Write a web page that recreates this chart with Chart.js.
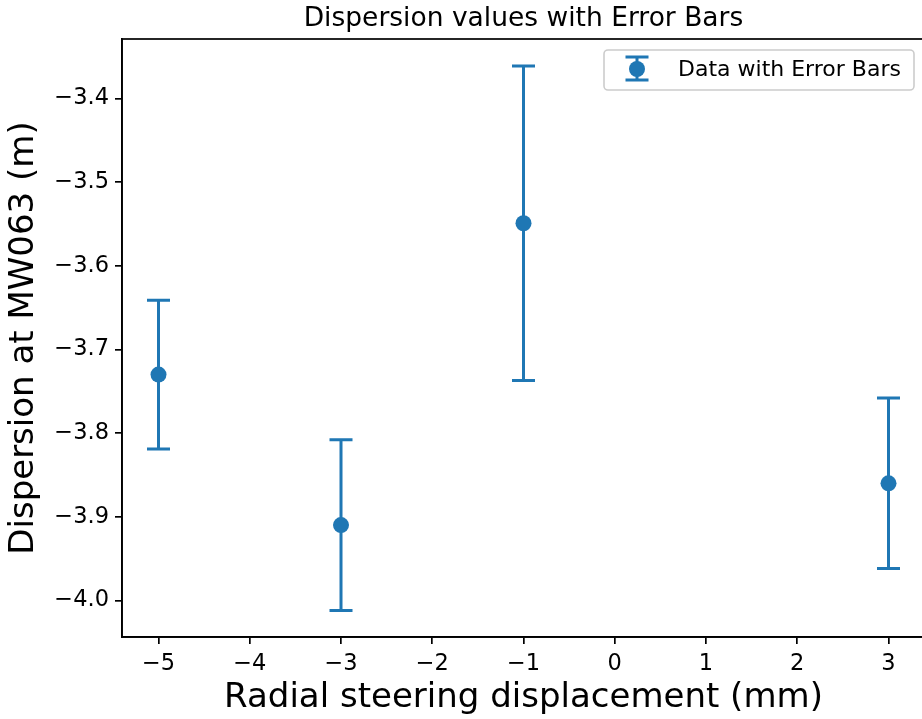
<!DOCTYPE html>
<html>
<head>
<meta charset="utf-8">
<script src="https://cdn.jsdelivr.net/npm/chart.js@4.4.0/dist/chart.umd.min.js"></script>
<style>
  html, body { margin: 0; padding: 0; background: #fff; overflow: hidden; }
  #wrap { width: 922px; height: 719px; overflow: hidden; }
</style>
</head>
<body>
<div id="wrap"><canvas id="myChart" width="925" height="719"></canvas></div>
<script>
const displacement = [-5, -3, -1, 3];
const dispersion = [-3.73, -3.91, -3.549, -3.86];
const errors = [0.089, 0.102, 0.188, 0.102];
const xTicks = [-5, -4, -3, -2, -1, 0, 1, 2, 3];
const yTicks = [-4.0, -3.9, -3.8, -3.7, -3.6, -3.5, -3.4];

const blue = '#1f77b4';
const font = '"DejaVu Sans", sans-serif';

const minus = (v, digits) => {
  const s = Number(v).toFixed(digits);
  return s.replace('-', '\u2212');
};

// error bars drawn under the markers
const errorBars = {
  id: 'errorBars',
  beforeDatasetsDraw(chart) {
    const { ctx, scales: { x, y } } = chart;
    ctx.save();
    ctx.strokeStyle = blue;
    ctx.lineWidth = 3;
    displacement.forEach((d, i) => {
      const px = x.getPixelForValue(d);
      const top = y.getPixelForValue(dispersion[i] + errors[i]);
      const bot = y.getPixelForValue(dispersion[i] - errors[i]);
      ctx.beginPath();
      ctx.moveTo(px, top);
      ctx.lineTo(px, bot);
      ctx.moveTo(px - 11.5, top);
      ctx.lineTo(px + 11.5, top);
      ctx.moveTo(px - 11.5, bot);
      ctx.lineTo(px + 11.5, bot);
      ctx.stroke();
    });
    ctx.restore();
  }
};

// axes frame + legend box
const frameAndLegend = {
  id: 'frameAndLegend',
  afterDraw(chart) {
    const { ctx, chartArea: a } = chart;
    ctx.save();
    ctx.strokeStyle = '#000';
    ctx.lineWidth = 1.7;
    ctx.strokeRect(a.left, a.top, a.right - a.left, a.bottom - a.top);

    const w = 310, h = 40;
    const bx = a.right - 11 - w, by = a.top + 11;
    ctx.beginPath();
    ctx.roundRect(bx, by, w, h, 4);
    ctx.fillStyle = 'rgba(255,255,255,0.8)';
    ctx.fill();
    ctx.strokeStyle = '#cccccc';
    ctx.lineWidth = 1.6;
    ctx.stroke();

    const ix = bx + 33, iy = by + 19;
    ctx.strokeStyle = blue;
    ctx.lineWidth = 3;
    ctx.beginPath();
    ctx.moveTo(ix, iy - 12); ctx.lineTo(ix, iy + 11);
    ctx.moveTo(ix - 11.5, iy - 12); ctx.lineTo(ix + 11.5, iy - 12);
    ctx.moveTo(ix - 11.5, iy + 11); ctx.lineTo(ix + 11.5, iy + 11);
    ctx.stroke();
    ctx.beginPath();
    ctx.arc(ix, iy, 8, 0, Math.PI * 2);
    ctx.fillStyle = blue;
    ctx.fill();

    ctx.fillStyle = '#000';
    ctx.font = '22px ' + font;
    ctx.textAlign = 'left';
    ctx.textBaseline = 'middle';
    ctx.fillText(chart.data.datasets[0].label, bx + 74, iy + 1);
    ctx.restore();
  }
};

const noPad = s => {
  s.paddingLeft = 0; s.paddingRight = 0; s.paddingTop = 0; s.paddingBottom = 0;
};

new Chart(document.getElementById('myChart'), {
  type: 'scatter',
  data: {
    datasets: [{
      label: 'Data with Error Bars',
      data: displacement.map((d, i) => ({ x: d, y: dispersion[i] })),
      pointRadius: 8,
      pointHoverRadius: 8,
      pointBackgroundColor: blue,
      pointBorderWidth: 0,
      showLine: false
    }]
  },
  options: {
    responsive: false,
    animation: false,
    devicePixelRatio: 1,
    layout: { padding: 0, autoPadding: false },
    plugins: {
      legend: { display: false },
      tooltip: { enabled: false },
      title: {
        display: true,
        text: 'Dispersion values with Error Bars',
        fullSize: false,
        color: '#000',
        font: { family: font, size: 26.5, weight: 'normal', lineHeight: 1.2 },
        padding: { top: 3, bottom: 4.2 }
      }
    },
    scales: {
      x: {
        type: 'linear',
        min: -5.4,
        max: 3.4,
        afterBuildTicks: s => { s.ticks = xTicks.map(v => ({ value: v })); },
        afterFit: s => { s.height = 82; noPad(s); },
        ticks: {
          autoSkip: false,
          maxRotation: 0,
          color: '#000',
          padding: 7,
          font: { family: font, size: 22.5 },
          callback: v => minus(v, 0)
        },
        grid: { drawOnChartArea: false, drawTicks: true, tickLength: 7, color: '#000', lineWidth: 1.7 },
        border: { display: true, color: '#000', width: 1.7 },
        title: {
          display: true,
          text: 'Radial steering displacement (mm)',
          color: '#000',
          font: { family: font, size: 34, lineHeight: 1.2 },
          padding: { top: 0, bottom: 0 }
        }
      },
      y: {
        type: 'linear',
        min: -4.0438,
        max: -3.3287,
        afterBuildTicks: s => { s.ticks = yTicks.map(v => ({ value: v })); },
        afterFit: s => { s.width = 122; noPad(s); },
        ticks: {
          autoSkip: false,
          color: '#000',
          padding: 6,
          font: { family: font, size: 22.5 },
          callback: v => minus(v, 1)
        },
        grid: { drawOnChartArea: false, drawTicks: true, tickLength: 7, color: '#000', lineWidth: 1.7 },
        border: { display: true, color: '#000', width: 1.7 },
        title: {
          display: true,
          text: 'Dispersion at MW063 (m)',
          color: '#000',
          font: { family: font, size: 34, lineHeight: 1.2 },
          padding: { top: 4, bottom: 0 }
        }
      }
    }
  },
  plugins: [errorBars, frameAndLegend]
});
</script>
</body>
</html>
